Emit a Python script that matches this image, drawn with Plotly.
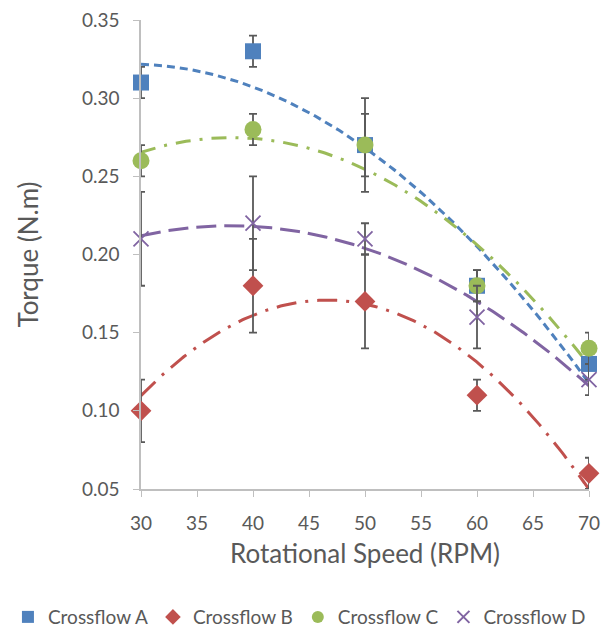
import numpy as np
import plotly.graph_objects as go

# Rotational speed (RPM)
rpm = [30, 40, 50, 60, 70]

# Measured torque (N.m) for each turbine
torque_a = [0.31, 0.33, 0.27, 0.18, 0.13]
torque_b = [0.10, 0.18, 0.17, 0.11, 0.06]
torque_c = [0.26, 0.28, 0.27, 0.18, 0.14]
torque_d = [0.21, 0.22, 0.21, 0.16, 0.12]

# Error bar half-widths (N.m)
err_a = [0.01, 0.01, 0.03, 0.01, 0.01]
err_b = [0.02, 0.03, 0.03, 0.01, 0.01]
err_c = [0.01, 0.01, 0.02, 0.01, 0.01]
err_d = [0.03, 0.03, 0.01, 0.02, 0.01]

x_ticks = [30, 35, 40, 45, 50, 55, 60, 65, 70]
y_ticks = [0.05, 0.10, 0.15, 0.20, 0.25, 0.30, 0.35]

series = [
    ("Crossflow A", torque_a, err_a, "#4F81BD", "square", 16, "8px,5px"),
    ("Crossflow B", torque_b, err_b, "#C0504D", "diamond", 16, "20px,9px,3px,9px"),
    ("Crossflow C", torque_c, err_c, "#9BBB59", "circle", 17, "15px,9px,3px,9px"),
    ("Crossflow D", torque_d, err_d, "#8064A2", "x-thin", 15, "20px,8px"),
]

fig = go.Figure()
xs = np.linspace(min(rpm), max(rpm), 200)

# Second-order polynomial trendlines
for name, y, e, color, symbol, size, dash in series:
    coef = np.polyfit(rpm, y, 2)
    fig.add_trace(go.Scatter(
        x=xs, y=np.polyval(coef, xs), mode="lines",
        line=dict(color=color, width=3, dash=dash),
        showlegend=False, hoverinfo="skip", cliponaxis=False,
    ))

# Data points with error bars
for name, y, e, color, symbol, size, dash in series:
    marker = dict(symbol=symbol, size=size, color=color)
    if symbol == "x-thin":
        marker["line"] = dict(color=color, width=1.8)
    fig.add_trace(go.Scatter(
        x=rpm, y=y, mode="markers", name=name, marker=marker,
        error_y=dict(type="data", array=e, visible=True,
                     color="#595959", thickness=1.8, width=4),
        cliponaxis=False,
    ))

fig.update_layout(
    width=601, height=629,
    margin=dict(l=141, r=12, t=20, b=140, autoexpand=False),
    plot_bgcolor="white", paper_bgcolor="white",
    font=dict(family="Lato, Open Sans, sans-serif", color="#595959"),
    legend=dict(orientation="h", x=-0.297, xanchor="left",
                y=-0.273, yanchor="middle",
                font=dict(size=19, color="#595959"),
                itemwidth=30, tracegroupgap=0, itemsizing="constant"),
)
fig.update_xaxes(
    range=[30, 70], tickvals=x_ticks, ticks="outside", ticklen=6,
    tickcolor="#BFBFBF", showline=True, linecolor="#BFBFBF", linewidth=1.5,
    showgrid=False, zeroline=False, tickfont=dict(size=19),
    ticklabelstandoff=10,
    title=dict(text="Rotational Speed (RPM)", font=dict(size=26), standoff=12),
)
fig.update_yaxes(
    range=[0.05, 0.35], tickvals=y_ticks, tickformat=".2f", ticks="outside",
    ticklen=6, tickcolor="#BFBFBF", showline=True, linecolor="#BFBFBF",
    linewidth=1.5, showgrid=False, zeroline=False, tickfont=dict(size=19),
    ticklabelstandoff=10,
    title=dict(text="Torque (N.m)", font=dict(size=26), standoff=36),
)

fig.write_html("out.html")
